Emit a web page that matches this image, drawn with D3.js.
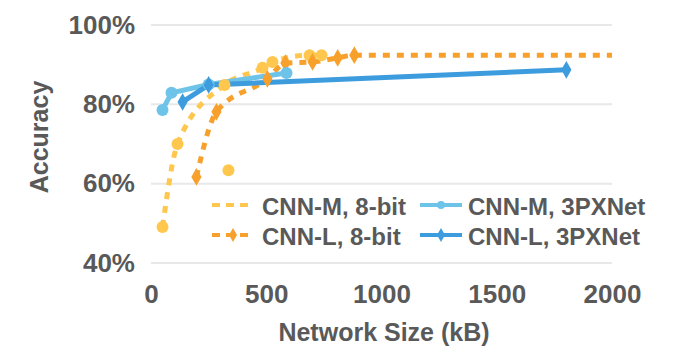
<!DOCTYPE html>
<html>
<head>
<meta charset="utf-8">
<script src="https://cdn.jsdelivr.net/npm/d3@7"></script>
<style>
  body { margin: 0; background: #fff; }
  text { font-family: "Liberation Sans", Arial, sans-serif; fill: #595959; font-weight: bold; }
</style>
</head>
<body>
<svg id="chart" width="676" height="354"></svg>
<script>
const svg = d3.select('#chart');

// data: [network size kB, accuracy %]
const cnnM8 = [[50, 49.1], [115, 70], [319, 84.9], [484, 89.2], [527, 90.7], [688, 92.4], [740, 92.4]];
const cnnM8Extra = [[336, 63.4]];
const cnnL8 = [[197, 61.7], [284, 78.1], [505, 86.4], [583, 90.4], [701, 90.7], [810, 91.7], [882, 92.4], [2000, 92.4]];
const cnnM3PX = [[50, 78.6], [89, 82.9], [250, 85], [588, 87.9]];
const cnnL3PX = [[137, 80.6], [250, 84.9], [1802, 88.7]];

const xTicks = [0, 500, 1000, 1500, 2000];
const yTicks = [40, 60, 80, 100];

const series = [
  { name: 'CNN-M, 8-bit', data: cnnM8, color: '#FFC74D', dash: '7,7', marker: 'circle', legendMarker: false },
  { name: 'CNN-L, 8-bit', data: cnnL8, color: '#F7A02C', dash: '7,7', marker: 'diamond', legendMarker: true },
  { name: 'CNN-M, 3PXNet', data: cnnM3PX, color: '#6EC3E8', dash: null, marker: 'circle', legendMarker: true },
  { name: 'CNN-L, 3PXNet', data: cnnL3PX, color: '#3D9CDE', dash: null, marker: 'diamond', legendMarker: true }
];

const xScale = d3.scaleLinear().domain([0, 2000]).range([151, 612]);
const yScale = d3.scaleLinear().domain([40, 100]).range([263, 25]);

//gridlines
svg.append('g').selectAll('line').data(yTicks).enter().append('line')
  .attr('x1', xScale(0)).attr('x2', xScale(2000))
  .attr('y1', d => yScale(d)).attr('y2', d => yScale(d))
  .attr('stroke', '#E8E8E8').attr('stroke-width', 2);

//axes
const yAxis = d3.axisLeft(yScale).tickValues(yTicks).tickSize(0).tickPadding(16)
  .tickFormat(d => d + '%');
const yAxisG = svg.append('g').attr('transform', `translate(${xScale(0)},0)`).call(yAxis);
yAxisG.select('.domain').remove();
yAxisG.selectAll('text').attr('font-size', 26).attr('fill', '#595959')
  .attr('font-family', '"Liberation Sans", Arial, sans-serif');

const xAxis = d3.axisBottom(xScale).tickValues(xTicks).tickSize(0).tickPadding(22)
  .tickFormat(d3.format('d'));
const xAxisG = svg.append('g').attr('transform', `translate(0,${yScale(40)})`).call(xAxis);
xAxisG.select('.domain').remove();
xAxisG.selectAll('text').attr('font-size', 26).attr('fill', '#595959')
  .attr('font-family', '"Liberation Sans", Arial, sans-serif');

//axis titles
svg.append('text')
  .attr('x', 384).attr('y', 341)
  .attr('text-anchor', 'middle').attr('font-size', 25)
  .text('Network Size (kB)');

svg.append('text')
  .attr('transform', 'translate(48,137) rotate(-90)')
  .attr('text-anchor', 'middle').attr('font-size', 25)
  .text('Accuracy');

const drawMarker = (g, s, x, y, isLegend) => {
  if (s.marker === 'circle') {
    g.append('circle').attr('cx', x).attr('cy', y).attr('r', isLegend ? 4 : 6)
      .attr('fill', s.color);
  } else {
    g.append('path').attr('d', d3.symbol().type(d3.symbolDiamond).size(isLegend ? 55 : 90)())
      .attr('transform', `translate(${x},${y})`).attr('fill', s.color);
  }
};

//lines
const line = d3.line().x(d => xScale(d[0])).y(d => yScale(d[1]));
const plot = svg.append('g');

series.forEach(s => {
  plot.append('path')
    .datum(s.data)
    .attr('fill', 'none')
    .attr('stroke', s.color)
    .attr('stroke-width', 5)
    .attr('stroke-dasharray', s.dash)
    .attr('d', s.dash ? line.curve(d3.curveMonotoneX)(s.data) : line.curve(d3.curveLinear)(s.data));
});

// markers (not at the far end of the 8-bit CNN-L line)
series.forEach(s => {
  const g = plot.append('g');
  s.data.filter(d => d[0] < 2000).forEach(d => drawMarker(g, s, xScale(d[0]), yScale(d[1]), false));
});
cnnM8Extra.forEach(d => drawMarker(plot, series[0], xScale(d[0]), yScale(d[1]), false));

//legend
const legendPos = [[212, 205], [212, 235], [420, 205], [420, 235]];
series.forEach((s, i) => {
  const [lx, ly] = legendPos[i];
  const g = svg.append('g');
  g.append('line')
    .attr('x1', lx).attr('x2', lx + 42).attr('y1', ly).attr('y2', ly)
    .attr('stroke', s.color).attr('stroke-width', 4)
    .attr('stroke-dasharray', s.dash ? '8,6' : null);
  if (s.legendMarker) drawMarker(g, s, lx + 21, ly, true);
  g.append('text')
    .attr('x', lx + (i < 2 ? 50 : 48)).attr('y', ly + 10)
    .attr('font-size', 24)
    .text(s.name);
});
</script>
</body>
</html>
